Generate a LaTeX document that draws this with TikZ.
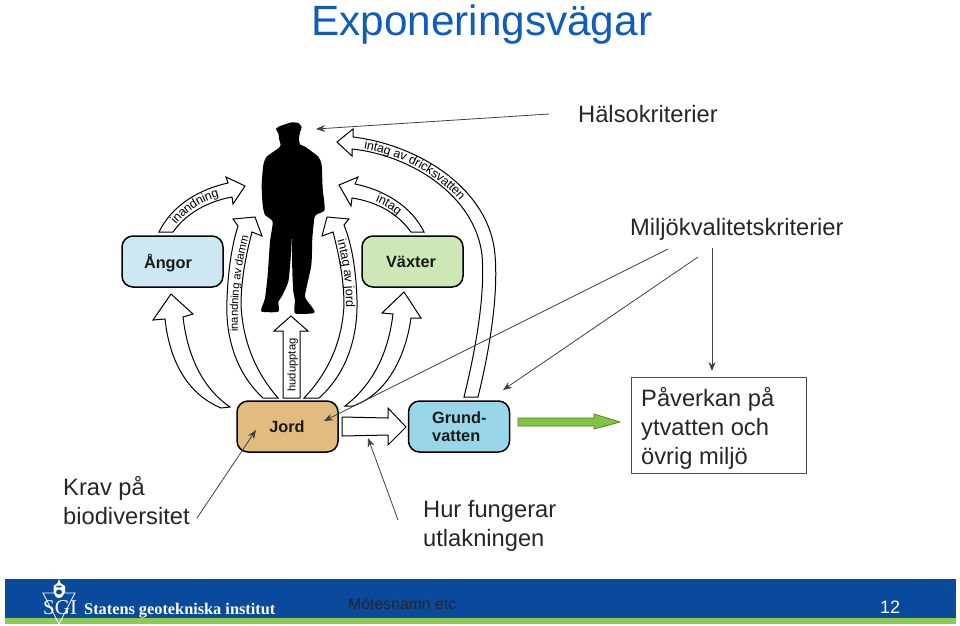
\documentclass[tikz,border=0pt]{standalone}
\usepackage{fontspec}
\setmainfont{Liberation Sans}
\newfontfamily\serifbf{Liberation Serif}
\usetikzlibrary{decorations.text,arrows.meta}
\definecolor{titleblue}{HTML}{0F5DB8}
\definecolor{footblue}{HTML}{0A4A9C}
\definecolor{footgreen}{HTML}{8CCB50}
\definecolor{thin}{HTML}{404040}
\definecolor{capor}{HTML}{CCE9F3}
\definecolor{cvaxt}{HTML}{CDE8B6}
\definecolor{cjord}{HTML}{E0BC80}
\definecolor{cgrund}{HTML}{9AD6E9}
\definecolor{garrow}{HTML}{84C341}
\definecolor{garrowd}{HTML}{4E7A2A}
\newcommand{\lblbig}{\fontsize{12.5}{14}\selectfont}
\newcommand{\lblsmall}{\fontsize{11.2}{12}\selectfont}
\newcommand{\lblmid}{\fontsize{12.5}{13}\selectfont}
\tikzset{
  x=1pt,y=-1pt,
  sz/.style={font=\fontsize{#1}{#1}\selectfont},
  box/.style={draw=black,line width=1.5pt,rounded corners=11pt,minimum width=101pt,minimum height=51pt,inner sep=0pt},
  boxtxt/.style={inner sep=0pt,align=left,text=black!90,font=\fontsize{16.3}{18}\selectfont\bfseries},
  fat/.style={draw=black,fill=white,line width=1pt,line join=miter},
  thinarrow/.style={draw=thin,line width=.8pt,-{Stealth[length=9pt,width=7pt]}},
  lab/.style={anchor=north west,inner sep=0pt,align=left,text=black!85,font=\fontsize{23.7}{29}\selectfont},
  curv/.style={decoration={text along path,text={#1},text align=center,raise=-4pt,
     text color=black},decorate},
}
\begin{document}
\begin{tikzpicture}
\useasboundingbox (0,0) rectangle (960,625);
% title
\node[anchor=base west,inner sep=0,text=titleblue,sz=42.3] (title) at (311,35) {Exponeringsvägar};
% footer
\fill[footblue] (5,579) rectangle (956,618);
\fill[footgreen] (5,618) rectangle (956,624);
\node[anchor=base west,inner sep=0,text=white,font=\serifbf\bfseries\fontsize{16.3}{18}\selectfont] (sgi) at (84,614) {Statens geotekniska institut};
\node[anchor=base west,inner sep=0,text=white,font=\serifbf\fontsize{21}{22}\selectfont] (sgil) at (43,614) {SGI};
\draw[white,line width=.8pt] (43,593) -- (75,593) -- (59,624) -- cycle;
\fill[white] (59,579) -- (60.5,583) -- (65,586) -- (65,592) -- (62,597) -- (59,598) -- (56,597) -- (53.5,592) -- (53.5,586) -- (57.5,583) -- cycle;
\fill[footblue] (59,586.5) ellipse (3pt and 1pt) (59,592) ellipse (3pt and 2.5pt);
\node[anchor=base west,inner sep=0,text=black!85,sz=15.8] (mote) at (348,609) {Mötesnamn etc};
\node[anchor=base west,inner sep=0,text=white,sz=18] (page) at (880,613) {12};
% boxes
\node[box,fill=capor] (angor) at (172.5,261.5) {};
\node[boxtxt] at (168,263) {Ångor};
\node[box,fill=cvaxt] (vaxter) at (412.5,261.5) {};
\node[boxtxt] at (411,262) {Växter};
\node[box,fill=cjord] (jord) at (287.5,426.5) {};
\node[boxtxt] at (287,426.5) {Jord};
\node[box,fill=cgrund] (grund) at (459,426.5) {};
\node[boxtxt,anchor=west] at (432,426.5) {Grund-\\vatten};
% person
\begin{scope}[shift={(250,115)},x=.3333pt,y=-.3333pt]
\fill[black] plot[smooth cycle,tension=.35] coordinates {(78,42)(88,34)(105,28)(125,22)(145,24)(155,36)(150,52)(147,70)(150,88)(165,95)(205,125)(215,150)(218,220)(224,285)(200,298)(193,310)(187,370)(184,450)(165,540)(170,555)(192,585)(190,595)(135,595)(135,555)(130,530)(127,470)(125,365)(122,430)(115,500)(95,545)(85,560)(85,590)(35,590)(38,570)(45,550)(53,480)(60,380)(68,320)(45,300)(38,270)(35,210)(40,150)(50,125)(85,100)(92,90)(88,75)(85,55)};
\end{scope}
% fat arrows
\draw[fat] (159,232) .. controls (172,205) and (200,189) .. (228,183) -- (226,177) -- (245,186) -- (233,204) -- (232,197) .. controls (210,201) and (187,212) .. (173,232) -- cycle;
\draw[fat] (424,232) .. controls (412,207) and (385,190) .. (355,184) -- (358,177) -- (339,185) -- (351,206) -- (352,198) .. controls (378,202) and (398,214) .. (411,232) -- cycle;
\draw[fat] (478,397) .. controls (492,340) and (498,290) .. (495,255) .. controls (490,190) and (420,145) .. (353,137) -- (353,129) -- (337,142) -- (352,156) -- (352,149) .. controls (410,155) and (475,195) .. (482,255) .. controls (485,290) and (478,340) .. (464,397) -- cycle;
\draw[fat] (263,398) .. controls (238,375) and (225,340) .. (227,300) .. controls (228,270) and (232,245) .. (238,226) -- (233,219) -- (255,217) -- (262,236) -- (252,232) .. controls (246,255) and (241,280) .. (241,305) .. controls (243,345) and (258,375) .. (278,398) -- cycle;
\draw[fat] (319,398) .. controls (345,375) and (358,340) .. (357,300) .. controls (356,270) and (352,245) .. (344,225) -- (349,219) -- (327,217) -- (322,236) -- (333,232) .. controls (339,255) and (344,280) .. (344,305) .. controls (342,345) and (326,375) .. (304,398) -- cycle;
\draw[fat] (283,398) -- (283,331) -- (274,331) -- (291,316) -- (308,331) -- (300,331) -- (300,398) -- cycle;
\draw[fat] (165,319) .. controls (170,365) and (190,395) .. (221,408) -- (230,407) .. controls (205,390) and (188,360) .. (183,317) -- (193,314) -- (171,294) -- (153,320) -- cycle;
\draw[fat] (393,314) .. controls (388,355) and (372,385) .. (345,406) -- (353,406) .. controls (385,395) and (405,360) .. (411,318) -- (421,318) -- (404,292) -- (382,313) -- cycle;
\draw[fat] (342,417) -- (388,418) -- (388,408) -- (406,427) -- (388,445) -- (388,435) -- (342,436) -- cycle;
% curved labels
\path[curv={|\lblbig|inandning}] (166,232) .. controls (180,208) and (205,194) .. (230,190);
\path[curv={|\lblbig|intag}] (352,191) .. controls (380,196) and (405,210) .. (417,232);
\path[curv={|\lblbig|intag av dricksvatten}] (352.5,143) .. controls (397.5,148) and (445.1,171.5) .. (470.4,207.6);
\path[curv={|\lblsmall|inandning av damm}] (234,335) .. controls (233,300) and (236,265) .. (246,232);
\path[curv={|\lblmid|intag av jord}] (340,236) .. controls (346,255) and (351,285) .. (350,311);
\path[curv={|\lblsmall|hudupptag}] (291.5,395) -- (291.5,335);
% green arrow
\draw[draw=garrowd,fill=garrow,line width=.7pt] (518,418) -- (594,418) -- (594,414) -- (620,422) -- (594,429) -- (594,426) -- (518,426) -- cycle;
% labels
\node[anchor=base west,inner sep=0,text=black!85,sz=23.7] (halso) at (578,122) {Hälsokriterier};
\node[anchor=base west,inner sep=0,text=black!85,sz=23.7] (miljo) at (630,235) {Miljökvalitetskriterier};
\node[lab] (krav) at (63,476) {Krav på\\biodiversitet};
\node[lab] (hur) at (423,500) {Hur fungerar\\utlakningen};
\node[draw=black!70,line width=1pt,minimum width=175pt,minimum height=96pt,inner sep=0pt,anchor=north west] (pav) at (631,377) {};
\node[lab] (pavt) at (641,387) {Påverkan på\\ytvatten och\\övrig miljö};
% thin connectors
\coordinate (h1) at (549,114); \coordinate (h2) at (316,129);
\coordinate (m1) at (668,249); \coordinate (m2) at (324,421);
\coordinate (n1) at (698,257); \coordinate (n2) at (503,390);
\coordinate (o1) at (712,248);
\coordinate (k1) at (197,518); \coordinate (k2) at (256,430);
\coordinate (u1) at (398,520); \coordinate (u2) at (368,438);
\draw[thinarrow] (h1) -- (h2);
\draw[thinarrow] (m1) -- (m2);
\draw[thinarrow] (n1) -- (n2);
\draw[thinarrow] (o1) -- (o1 |- 0,371);
\draw[thinarrow] (k1) -- (k2);
\draw[thinarrow] (u1) -- (u2);
\end{tikzpicture}
\end{document}
